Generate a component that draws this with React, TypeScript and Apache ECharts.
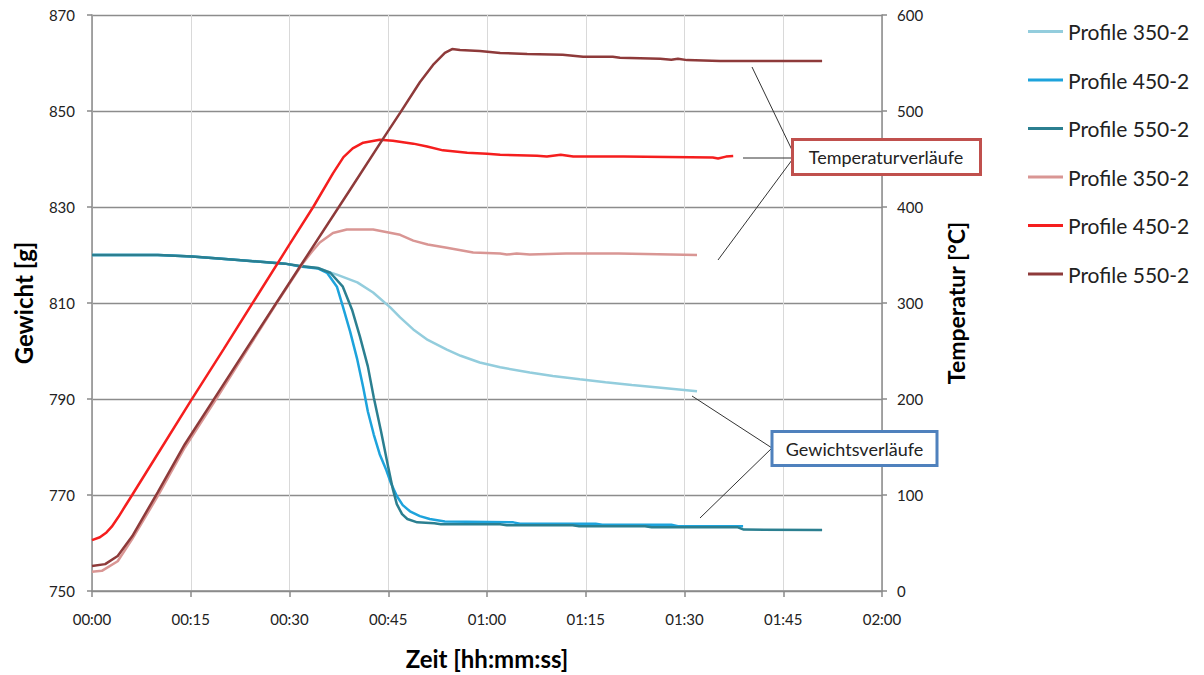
import React, { useEffect, useRef } from "react";
import * as echarts from "echarts";

// x values: minutes since start; weights in g; temperatures in °C
const weight350: [number, number][] = [
  [0, 820], [5, 820], [10, 820], [12.2, 819.9], [15.2, 819.7], [21.7, 819.0], [25, 818.7], [29.3, 818.2],
  [31.6, 817.7], [34.3, 817.3], [35.7, 816.6], [37.2, 815.9], [40.3, 814.3], [42.7, 812.2], [45.3, 809.1],
  [46.8, 807.0], [48.8, 804.5], [51, 802.3], [53.9, 800.3], [56, 799.0], [58.9, 797.6], [62, 796.6],
  [66.5, 795.5], [70, 794.8], [74.1, 794.1], [78, 793.5], [82, 792.9], [86, 792.4], [91.9, 791.6],
];
const weight450: [number, number][] = [
  [0, 820], [10, 820], [15.2, 819.7], [21.7, 819.0], [29.3, 818.2], [31.6, 817.6], [34.3, 817.2],
  [35.7, 816.3], [37.2, 813.4], [38.1, 809.3], [39.2, 804.1], [40.3, 798.2], [41.2, 792.4], [41.9, 787.4],
  [42.8, 782.6], [43.7, 778.5], [44.7, 775.2], [45.4, 772.5], [46.3, 769.8], [47.2, 767.9], [48.3, 766.6],
  [49.8, 765.6], [51.3, 765.0], [53.6, 764.5], [64, 764.3], [65, 764.0], [76.5, 764.0], [77.5, 763.8],
  [88, 763.8], [89, 763.5], [98.9, 763.5],
];
const weight550: [number, number][] = [
  [0, 820], [10, 820], [15.2, 819.7], [21.7, 819.0], [29.3, 818.2], [31.6, 817.7], [34.3, 817.3],
  [36.2, 816.3], [38.1, 813.4], [39.5, 808.6], [40.7, 803.0], [41.9, 796.8], [42.8, 790.3], [43.9, 783.3],
  [45.0, 775.8], [45.7, 771.2], [46.3, 768.1], [47.1, 766.0], [47.9, 765.0], [49.4, 764.3], [52, 764.1],
  [53, 763.9], [62, 763.9], [63, 763.7], [73, 763.7], [74, 763.5], [84, 763.5], [85, 763.3], [98, 763.3],
  [99, 762.8], [110.9, 762.7],
];
const temp350: [number, number][] = [
  [0, 20], [1.5, 21], [3.9, 31], [6.1, 54], [10, 99], [14.1, 149.5], [19, 201.5], [23.5, 250.5], [28.1, 300.5],
  [32.1, 342], [33.4, 353.5], [34.6, 363], [36.6, 373], [38.7, 376.5], [42.7, 376.5], [46.8, 371],
  [48.8, 365], [51, 361], [53.9, 357.5], [57.9, 352.5], [62, 351.5], [63, 350.5], [64.5, 351.5],
  [66.5, 350.5], [72, 351.5], [80, 351.5], [91.9, 350],
];
const temp450: [number, number][] = [
  [0, 53], [1.2, 56], [2.2, 61], [3, 67], [4, 77], [5, 88], [6.1, 100], [10, 143], [15, 198], [20, 252],
  [25, 306.5], [30, 361], [33.6, 400], [36.6, 435], [38.2, 452], [39.6, 461], [41.2, 467], [43.7, 470],
  [45.7, 469], [48.8, 466], [50.9, 463], [53.3, 459], [57, 456.5], [60, 455.5], [62, 454.5], [67.6, 453.5],
  [69.1, 452.5], [71.2, 454.5], [73.1, 452.5], [80.7, 452.5], [94.3, 451.5], [95.1, 450.5], [96.3, 452.5],
  [97.4, 453],
];
const temp550: [number, number][] = [
  [0, 26], [2, 28], [3.9, 36.4], [6.1, 57], [10, 103], [14.1, 152.9], [18.7, 201.7], [24, 257.9],
  [31.6, 338], [39.2, 418], [44.2, 471], [46.8, 498], [49.8, 530], [51.8, 548], [53.6, 560.5],
  [54.7, 564.5], [55.9, 563.5], [58.9, 562.5], [62, 560.5], [66.1, 559.5], [71.5, 558.5], [74.6, 556.5],
  [79.1, 556.5], [80.2, 555.5], [86.3, 554.5], [88, 553.5], [89, 554.5], [90.4, 553], [95.4, 552],
  [110.9, 552],
];

const legendLabels = ["Profile 350-2", "Profile 450-2", "Profile 550-2", "Profile 350-2", "Profile 450-2", "Profile 550-2"];
const seriesKeys = ["w350", "w450", "w550", "t350", "t450", "t550"];
const seriesColors = ["#93CDDD", "#1DA3DC", "#2B7F90", "#D99694", "#F51E1E", "#8E3A3A"];
const seriesData = [weight350, weight450, weight550, temp350, temp450, temp550];
const seriesAxis = [0, 0, 0, 1, 1, 1];

const FONT = "Lato, 'Open Sans', sans-serif";

function fmtTime(v: number): string {
  const h = Math.floor(v / 60);
  const m = Math.round(v % 60);
  return String(h).padStart(2, "0") + ":" + String(m).padStart(2, "0");
}

export default function App() {
  const ref = useRef<HTMLDivElement>(null);
  useEffect(() => {
    document.body.style.margin = "0";
    if (!ref.current) return;
    const chart = echarts.init(ref.current, undefined, { renderer: "svg" });
    const axisLineStyle = { color: "#8A8A8A", width: 1.5 };
    const labelStyle = { fontFamily: FONT, fontSize: 15, color: "#222" };
    const nameStyle = { fontFamily: FONT, fontWeight: "bold" as const, color: "#000" };
    const leader = (x1: number, y1: number, x2: number, y2: number) => ({
      type: "line", shape: { x1, y1, x2, y2 }, style: { stroke: "#333", lineWidth: 1 }, z: 50,
    });
    chart.setOption({
      animation: false,
      backgroundColor: "#fff",
      textStyle: { fontFamily: FONT },
      grid: { left: 92, right: 322, top: 15, bottom: 83, containLabel: false },
      legend: {
        orient: "vertical",
        left: 1028,
        top: 21,
        padding: 0,
        itemGap: 27.5,
        icon: "rect",
        itemWidth: 35,
        itemHeight: 3,
        data: seriesKeys,
        formatter: (name: string) => legendLabels[seriesKeys.indexOf(name)],
        textStyle: { fontFamily: FONT, fontSize: 21, color: "#222", lineHeight: 20 },
      },
      xAxis: {
        type: "value",
        min: 0,
        max: 120,
        interval: 15,
        name: "Zeit [hh:mm:ss]",
        nameLocation: "middle",
        nameGap: 55,
        nameTextStyle: { ...nameStyle, fontSize: 24 },
        axisLine: { show: true, lineStyle: axisLineStyle },
        axisTick: { show: true, length: 6, lineStyle: axisLineStyle },
        axisLabel: { ...labelStyle, margin: 20, formatter: (v: number) => fmtTime(v) },
        splitLine: { show: true, lineStyle: { color: "#D9D9D9", width: 1 } },
      },
      yAxis: [
        {
          type: "value",
          position: "left",
          min: 750,
          max: 870,
          interval: 20,
          name: "Gewicht [g]",
          nameLocation: "middle",
          nameGap: 57,
          nameTextStyle: { ...nameStyle, fontSize: 24 },
          axisLine: { show: true, lineStyle: axisLineStyle },
          axisTick: { show: true, length: 5, lineStyle: axisLineStyle },
          axisLabel: { ...labelStyle, margin: 17 },
          splitLine: { show: true, lineStyle: { color: "#8C8C8C", width: 1.3 } },
        },
        {
          type: "value",
          position: "right",
          min: 0,
          max: 600,
          interval: 100,
          name: "Temperatur [°C]",
          nameLocation: "middle",
          nameGap: 62,
          nameTextStyle: { ...nameStyle, fontSize: 23 },
          axisLine: { show: true, lineStyle: axisLineStyle },
          axisTick: { show: true, length: 5, lineStyle: axisLineStyle },
          axisLabel: { ...labelStyle, margin: 15 },
          splitLine: { show: false },
        },
      ],
      series: seriesKeys.map((k, i) => ({
        name: k,
        type: "line",
        yAxisIndex: seriesAxis[i],
        data: seriesData[i],
        showSymbol: false,
        symbol: "none",
        color: seriesColors[i],
        lineStyle: { color: seriesColors[i], width: 2.5 },
        z: 3,
      })),
      graphic: [
        leader(752, 67, 792, 150),
        leader(743, 158, 792, 158),
        leader(718, 260, 792, 160),
        leader(692, 396, 772, 448),
        leader(700, 518, 772, 448),
        {
          type: "rect", z: 60,
          shape: { x: 792.5, y: 139.5, width: 188, height: 35 },
          style: { fill: "#fff", stroke: "#C0504D", lineWidth: 3 },
        },
        {
          type: "text", z: 61, x: 886, y: 157,
          style: { text: "Temperaturverläufe", fontFamily: FONT, fontSize: 18, fill: "#222", align: "center", verticalAlign: "middle" },
        },
        {
          type: "rect", z: 60,
          shape: { x: 772, y: 431.5, width: 165, height: 34 },
          style: { fill: "#fff", stroke: "#4F81BD", lineWidth: 3 },
        },
        {
          type: "text", z: 61, x: 854.5, y: 448.5,
          style: { text: "Gewichtsverläufe", fontFamily: FONT, fontSize: 18, fill: "#222", align: "center", verticalAlign: "middle" },
        },
      ],
    });
    return () => chart.dispose();
  }, []);
  return <div ref={ref} style={{ width: 1204, height: 675 }} />;
}
